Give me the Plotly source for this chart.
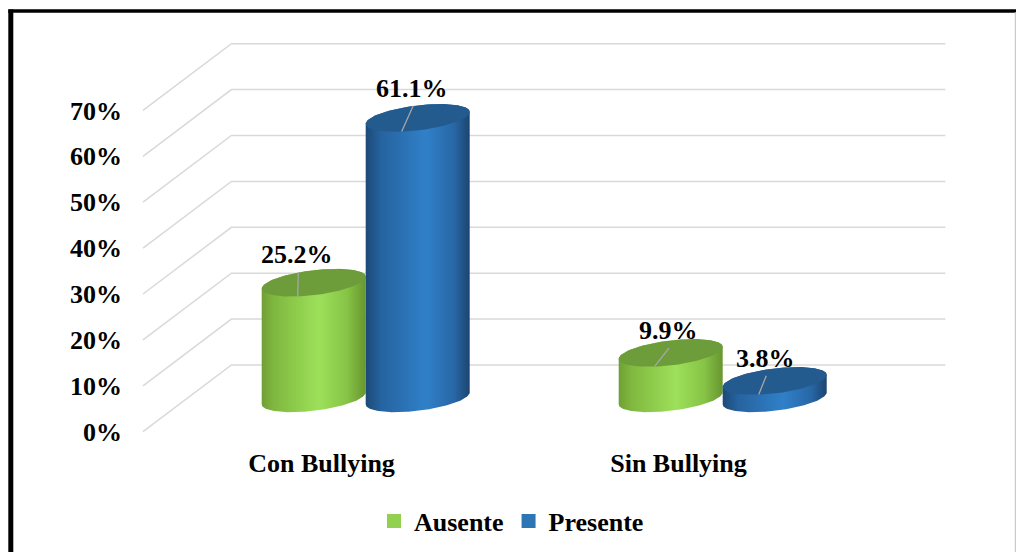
import numpy as np
import plotly.graph_objects as go

# ---------------- data ----------------
categories = ["Con Bullying", "Sin Bullying"]
series_names = ["Ausente", "Presente"]
ausente = [25.2, 9.9]
presente = [61.1, 3.8]
y_tick_values = [0, 10, 20, 30, 40, 50, 60, 70]
y_tick_labels = ["0%", "10%", "20%", "30%", "40%", "50%", "60%", "70%"]

# ---------------- styling / geometry (pixels) ----------------
W, H = 1016, 552
FRONT_LEFT_PX = 143.0      # left edge of the floor (front)
BAND_PX = 357.0            # width of one category band
ZERO_MID_PX = 398.35       # screen y of 0% at mid depth
PX_PER_PCT = 4.59
DEPTH_DX_PX = 44.2         # half depth, horizontal
DEPTH_DY_PX = 33.35        # half depth, vertical
RX_PX, RY_PX, SHEAR_PX = 52.0, 12.5, 6.0

# label offsets from the cylinder top centre (screen px, y down)
LABEL_OFF_PX = [[(-16.4, -28.0), (-5.5, -29.6)],
                [(-2.7, -22.4), (-9.4, -22.6)]]

FONT = dict(family="Liberation Serif, Times New Roman, serif", size=26,
            color="black", weight="bold")

body_scales = [
    [[0.0, "#6f9f35"], [0.12, "#80b83f"], [0.55, "#9de05a"],
     [0.82, "#86c446"], [1.0, "#689530"]],
    [[0.0, "#1c4a76"], [0.15, "#2663a0"], [0.58, "#3080c8"],
     [0.85, "#2867a6"], [1.0, "#1b4570"]],
]
top_colors = ["#6d9d3a", "#245b8e"]
legend_colors = ["#92d050", "#2e75b6"]

# ---------------- unit conversions ----------------
x_range = [(0 - FRONT_LEFT_PX) / BAND_PX - 0.5, (W - FRONT_LEFT_PX) / BAND_PX - 0.5]
y_range = [(ZERO_MID_PX - H) / PX_PER_PCT, ZERO_MID_PX / PX_PER_PCT]
dxu = DEPTH_DX_PX / BAND_PX
dyv = DEPTH_DY_PX / PX_PER_PCT
rxu = RX_PX / BAND_PX
ryv = RY_PX / PX_PER_PCT
kv = SHEAR_PX / PX_PER_PCT
n_cat = len(categories)

fig = go.Figure()

# ---------------- perspective gridlines ----------------
gx, gy = [], []
for v in y_tick_values:
    gx += [-0.5, -0.5 + 2 * dxu, n_cat - 0.5 + 2 * dxu, None]
    gy += [v - dyv, v + dyv, v + dyv, None]
fig.add_trace(go.Scatter(x=gx, y=gy, mode="lines",
                         line=dict(color="#d9d9d9", width=1.5),
                         hoverinfo="skip", showlegend=False))


def ellipse(cx, vc, t):
    return cx + rxu * np.cos(t), vc + ryv * np.sin(t) + kv * np.cos(t)


series_values = [ausente, presente]
t_front = np.linspace(np.pi, 2 * np.pi, 80)
t_back = np.linspace(0, np.pi, 80)
t_full = np.linspace(0, 2 * np.pi, 160)

leader_x, leader_y = [], []
annotations = []
for i in range(n_cat):
    for j, vals in enumerate(series_values):
        val = vals[i]
        cx = i + dxu + (2 * j - 1) * rxu
        bx, by = ellipse(cx, 0.0, t_front)
        tx, ty = ellipse(cx, val, t_back)
        fig.add_trace(go.Scatter(
            x=np.concatenate([bx, tx]), y=np.concatenate([by, ty]),
            mode="lines", fill="toself", line=dict(width=0),
            fillgradient=dict(type="horizontal", colorscale=body_scales[j]),
            hoverinfo="skip", showlegend=False))
        ex, ey = ellipse(cx, val, t_full)
        fig.add_trace(go.Scatter(
            x=ex, y=ey, mode="lines", fill="toself", line=dict(width=0),
            fillcolor=top_colors[j], hoverinfo="skip", showlegend=False))
        ldx, ldy = LABEL_OFF_PX[i][j]
        lu = cx + ldx / BAND_PX
        lv = val - ldy / PX_PER_PCT
        leader_x += [cx - 16 / BAND_PX, lu + 1 / BAND_PX, None]
        leader_y += [val - 13.5 / PX_PER_PCT, lv - 17.5 / PX_PER_PCT, None]
        annotations.append(dict(x=lu, y=lv, xref="x", yref="y",
                                text=f"{val:.1f}%", showarrow=False,
                                xanchor="center", yanchor="middle", font=FONT))

fig.add_trace(go.Scatter(x=leader_x, y=leader_y, mode="lines",
                         line=dict(color="#a6a6a6", width=1.3),
                         hoverinfo="skip", showlegend=False))

# legend entries
for name, col in zip(series_names, legend_colors):
    fig.add_trace(go.Scatter(x=[None], y=[None], mode="markers", name=name,
                             marker=dict(symbol="square", size=14, color=col)))

shapes = [
    dict(type="line", xref="paper", yref="paper", x0=10.8 / W, x1=10.8 / W,
         y0=1 - 9.5 / H, y1=-0.02, line=dict(color="black", width=5)),
    dict(type="line", xref="paper", yref="paper", x0=8.3 / W, x1=1.01,
         y0=1 - 11.0 / H, y1=1 - 11.0 / H, line=dict(color="black", width=3.5)),
    dict(type="line", xref="paper", yref="paper", x0=1015.3 / W, x1=1015.3 / W,
         y0=1 - 12 / H, y1=-0.02, line=dict(color="#bfbfbf", width=1)),
]

fig.update_layout(
    width=W, height=H, autosize=False,
    margin=dict(l=0, r=0, t=0, b=0),
    paper_bgcolor="white", plot_bgcolor="white",
    showlegend=True,
    legend=dict(orientation="h", x=374 / W, xanchor="left",
                y=1 - 521 / H, yanchor="middle", font=FONT,
                bgcolor="rgba(0,0,0,0)", itemclick=False),
    xaxis=dict(range=x_range, domain=[0, 1], anchor="free", position=(H - 445) / H,
               tickvals=list(range(n_cat)), ticktext=categories, ticks="",
               showgrid=False, zeroline=False, showline=False, tickfont=FONT,
               fixedrange=True),
    yaxis=dict(range=y_range, domain=[0, 1], anchor="free", position=122 / W,
               tickvals=[v - dyv for v in y_tick_values], ticktext=y_tick_labels,
               ticks="", showgrid=False, zeroline=False, showline=False,
               tickfont=FONT, fixedrange=True),
    annotations=annotations,
    shapes=shapes,
)

fig.write_html("out.html")
